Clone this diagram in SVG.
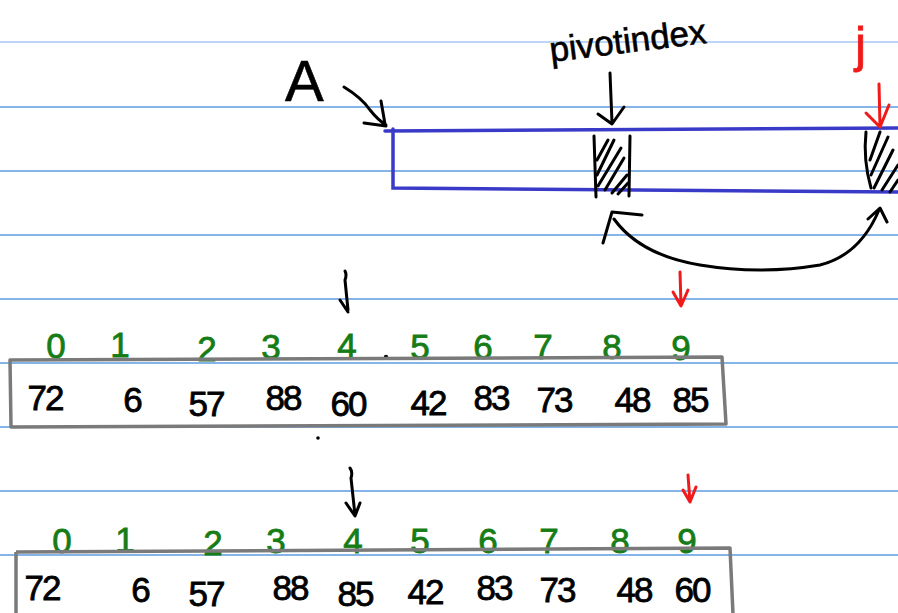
<svg xmlns="http://www.w3.org/2000/svg" width="898" height="613" viewBox="0 0 898 613">
<style>
.rule{stroke:#5b9be0;stroke-width:1.4;fill:none}
.ink{stroke:#000;stroke-width:3;fill:none;stroke-linecap:round;stroke-linejoin:round}
.red{stroke:#f01a1a;stroke-width:3;fill:none;stroke-linecap:round;stroke-linejoin:round}
.blue{stroke:#3a3ac8;stroke-width:3.5;fill:none;stroke-linecap:round}
.box{stroke:#7a7a7a;stroke-width:3.5;fill:none;stroke-linejoin:round}
.idx{font-family:"Liberation Sans",Arial,sans-serif;font-size:35px;fill:#167c16;text-anchor:middle;stroke:#167c16;stroke-width:0.8}
.val{font-family:"Liberation Sans",Arial,sans-serif;font-size:35px;fill:#000;text-anchor:middle;letter-spacing:-2px;stroke:#000;stroke-width:0.8}
.hand{font-family:"Liberation Sans",Arial,sans-serif;fill:#000}
</style>
<rect width="898" height="613" fill="#fff"/>
<g id="rules">
<line x1="0" y1="42" x2="898" y2="42" class="rule" stroke-width="2.5" style="stroke:#a9c9f2"/>
<line x1="0" y1="107" x2="898" y2="107" class="rule"/>
<line x1="0" y1="171" x2="898" y2="171" class="rule"/>
<line x1="0" y1="235" x2="898" y2="235" class="rule"/>
<line x1="0" y1="299" x2="898" y2="299" class="rule"/>
<line x1="0" y1="363" x2="898" y2="363" class="rule"/>
<line x1="0" y1="427" x2="898" y2="427" class="rule"/>
<line x1="0" y1="491" x2="898" y2="491" class="rule"/>
<line x1="0" y1="555" x2="898" y2="555" class="rule"/>
</g>

<g id="array-A">
<text class="hand" x="285" y="101" font-size="58" stroke="#000" stroke-width="0.6">A</text>
<path class="ink" d="M344 87 Q362 98 370 110 Q378 120 386 125 M364 123 L386 126 M381 101 L385 124"/>
<path class="blue" d="M385 131 L898 128 M393 129 L393 188 L898 192"/>
<text class="hand" x="551" y="62" font-size="35" stroke="#000" stroke-width="0.6" transform="rotate(-7 551 62)">pivotindex</text>
<path class="ink" d="M610 73 L612 123 M598 114 L612 124 L624 107"/>
<g id="pivot-cell">
<path class="ink" d="M594 136 L596 197 M630 136 L629 196"/>
<path class="ink" stroke-width="2.5" d="M597 160 L608 140 M597 175 L614 140 M598 186 L621 148 M605 190 L624 158 M612 193 L627 175 M618 194 L628 183"/>
</g>
<text x="855" y="62" font-family="Liberation Sans,Arial,sans-serif" font-size="50" fill="#f01a1a" stroke="#f01a1a" stroke-width="0.8">j</text>
<path class="red" d="M879 84 L880 127 M866 113 L880 127 L889 105"/>
<g id="j-cell">
<path class="ink" d="M866 132 Q863 160 871 188"/>
<path class="ink" stroke-width="2.5" d="M870 160 L880 132 M871 175 L888 137 M874 188 L893 150 M882 190 L898 165 M890 192 L898 180"/>
</g>
<path class="ink" d="M603 243 L612 212 L642 215 M614 219 Q640 255 700 265 Q760 275 820 265 Q860 255 879 210 M868 219 L880 208 L887 222"/>
</g>

<g id="row1">
<path class="ink" d="M345 271 Q347 275 345 280 L348 310 M340 300 L348 312"/>
<path class="red" d="M680 272 L681 305 M673 292 L681 306 L688 290"/>
<text class="idx" x="56" y="358">0</text>
<text class="idx" x="120" y="357">1</text>
<text class="idx" x="207" y="361">2</text>
<text class="idx" x="271" y="359">3</text>
<text class="idx" x="347" y="358">4</text>
<circle cx="386" cy="357" r="2.2" fill="#000"/>
<text class="idx" x="420" y="359">5</text>
<text class="idx" x="483" y="359">6</text>
<text class="idx" x="543" y="359">7</text>
<text class="idx" x="612" y="359">8</text>
<text class="idx" x="681" y="360">9</text>
<path class="box" d="M10 360 L722 357 L726 424 L11 427 Z"/>
<text class="val" x="45" y="410">72</text>
<text class="val" x="132" y="412">6</text>
<text class="val" x="206" y="416">57</text>
<text class="val" x="283" y="410">88</text>
<text class="val" x="348" y="416">60</text>
<text class="val" x="428" y="415">42</text>
<text class="val" x="491" y="410">83</text>
<text class="val" x="554" y="412">73</text>
<text class="val" x="632" y="412">48</text>
<text class="val" x="690" y="412">85</text>
<circle cx="318" cy="438" r="1.8" fill="#000"/>
</g>

<g id="row2">
<path class="ink" d="M350 468 Q353 472 351 478 L355 515 M346 503 L355 516 L360 503"/>
<path class="red" d="M688 475 L690 502 M683 490 L690 502 L696 487"/>
<text class="idx" x="62" y="553">0</text>
<text class="idx" x="125" y="552">1</text>
<text class="idx" x="213" y="555">2</text>
<text class="idx" x="276" y="553">3</text>
<text class="idx" x="353" y="553">4</text>
<text class="idx" x="420" y="553">5</text>
<text class="idx" x="488" y="553">6</text>
<text class="idx" x="549" y="553">7</text>
<text class="idx" x="620" y="553">8</text>
<text class="idx" x="687" y="553">9</text>
<path class="box" d="M16 552 L16 614 M16 552 L730 548 L733 614"/>
<text class="val" x="42" y="600">72</text>
<text class="val" x="140" y="602">6</text>
<text class="val" x="206" y="606">57</text>
<text class="val" x="290" y="600">88</text>
<text class="val" x="355" y="606">85</text>
<text class="val" x="425" y="604">42</text>
<text class="val" x="494" y="600">83</text>
<text class="val" x="557" y="602">73</text>
<text class="val" x="634" y="602">48</text>
<text class="val" x="692" y="602">60</text>
</g>
</svg>
